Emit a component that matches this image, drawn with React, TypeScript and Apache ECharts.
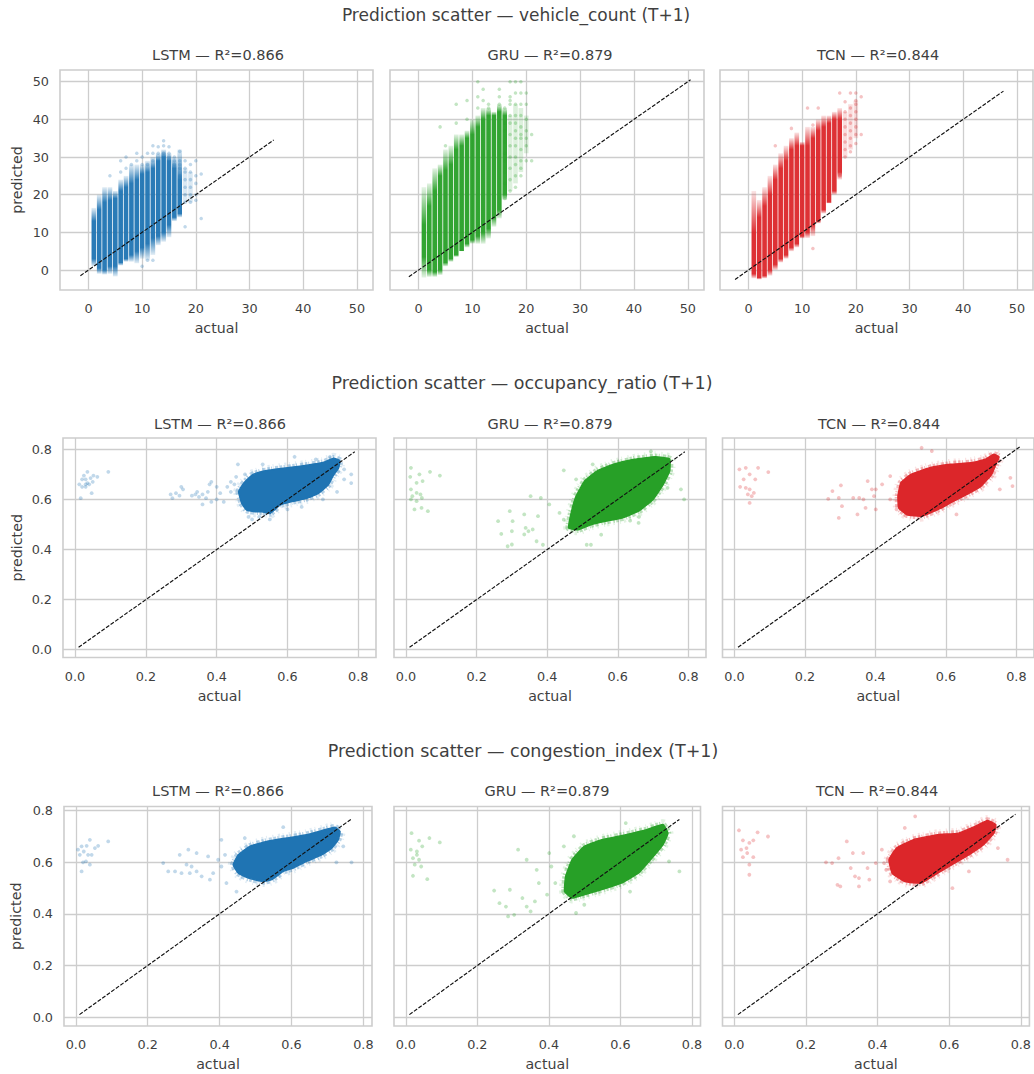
import React, { useEffect, useRef } from "react";
import * as echarts from "echarts";

// All values below were read by eye from the reference picture. The dense clouds cannot be
// read point by point, so they are stored as what can be read: per-column extents for the
// integer-valued target, cloud outlines for the continuous targets, plus visible sparse points.

const modelNames = ["LSTM", "GRU", "TCN"];
const r2Labels = ["R²=0.866", "R²=0.879", "R²=0.844"];
const targetTitles = [
  "Prediction scatter — vehicle_count (T+1)",
  "Prediction scatter — occupancy_ratio (T+1)",
  "Prediction scatter — congestion_index (T+1)",
];
const vehicleTicks = [0, 10, 20, 30, 40, 50];
const ratioTicks = [0, 0.2, 0.4, 0.6, 0.8];

// [actual, low predicted, high predicted]
const lstmVehicleCore = [[1,3,13],[2,0.5,16],[3,0,18],[4,1,18.5],[5,1,19],[6,2,21],[7,3,22],[8,4,23],[9,5,24],[10,6,25.5],[11,7,26],[12,8.5,27],[13,9,29],[14,10,30],[15,12,29],[16,14,27],[17,15,24]];
const lstmVehicleFringe = [[1,1,16.5],[2,-1,20],[3,-1.2,22],[4,-1,22],[5,-1.7,21],[6,1.2,24],[7,2.2,25],[8,2.2,28],[9,1.8,28],[10,3,28],[11,2.6,29],[12,4,30],[13,6.6,31],[14,7.5,32],[15,8.7,31],[16,13,30],[17,14,32],[18,18,27],[19,18,26]];
const lstmVehicleDots = [[17,[25,27,28,29,31.5]],[18,[11.5,18,20,22,24,26,27,29]],[19,[18,20,22,24,26,28]],[20,[18.5,20,23,25,29]],[21,[13.7,25.5]],[16,[28,29,30]],[15,[30,31,32.7]],[14,[31,33,34.3]],[13,[31,32.7]],[12,[29,31,33]],[9,[29,31]],[6,[26,29]],[7,[27,30]],[4,[25]],[8,[28]],[10,[28,30,1]],[11,[28,31,2.6]],[12,[2.6]]];

const gruVehicleCore = [[1,3.5,12],[2,0,17],[3,-0.5,21],[4,0,25],[5,2,26.5],[6,3,28],[7,4,32],[8,5,33],[9,7,35],[10,8,36],[11,9,38],[12,10,40],[13,11,41],[14,14,41],[15,16,42],[16,20,41]];
const gruVehicleFringe = [[1,-2,22],[2,-1.8,23],[3,-1.8,27],[4,-1.3,28],[5,1,32],[6,2.2,33],[7,3.5,36],[8,5,36],[9,6,37],[10,7,40],[11,7,41],[12,7,43],[13,8.4,43],[14,11.5,42],[15,13.7,44],[16,18.6,43],[17,21,41],[18,23,44],[19,26,43],[20,31,41]];
const gruVehicleDots = [[16,[19,23,26,29,31,34,37,39,43]],[17,[21,24,27,30,33,36,39,41,44,45,46,50]],[18,[22,25,28,30,33,35,37,39,41,44,47,50]],[19,[25,27,29,32,35,36,38,41,44,47,50]],[20,[29,33,35,37,40,44,47]],[21,[29,36]],[15,[44,46,48]],[13,[43,44]],[11,[50,46,43]],[12,[48,45]],[9,[45,40]],[7,[44,39]],[4,[38]],[5,[33]]];

const tcnVehicleCore = [[1,-1,10],[2,-2,14],[3,-1.5,17],[4,0,20],[5,1.5,24],[6,3,27],[7,4,29],[8,6,32],[9,7,33],[10,9,33],[11,10,33],[12,12,35],[13,13,37],[14,16,38],[15,18,39],[16,21,40],[17,26,40]];
const tcnVehicleFringe = [[1,-2.2,21],[2,-2.5,18.6],[3,-2.2,22],[4,-1.5,25],[5,0,28],[6,2,31],[7,3,33],[8,5,35],[9,6,36.5],[10,8.4,34],[11,8.5,38],[12,9,38],[13,12.4,40],[14,15,41],[15,17.7,41],[16,20,42],[17,24,43],[18,30,42],[19,32,44],[20,35,45]];
const tcnVehicleDots = [[18,[30,32,34,36,38,40,42,44.7]],[19,[31.4,33,35,37,39,41,43,47]],[20,[33.6,36,38,40,42,44,45,47]],[21,[36,46]],[17,[25,47]],[13,[43]],[11,[43]],[12,[5.7,38.5]],[8,[37.6]],[5,[33]]];

const lstmOccOutline = [[0.462,0.631],[0.476,0.664],[0.5,0.697],[0.528,0.711],[0.565,0.72],[0.612,0.728],[0.659,0.737],[0.701,0.747],[0.73,0.764],[0.748,0.755],[0.744,0.724],[0.73,0.697],[0.715,0.657],[0.687,0.624],[0.654,0.604],[0.612,0.591],[0.579,0.577],[0.551,0.544],[0.528,0.551],[0.509,0.551],[0.485,0.557],[0.471,0.584]];
const lstmOccSparse = [[0.02,0.68],[0.03,0.66],[0.03,0.68],[0.035,0.665],[0.044,0.685],[0.035,0.71],[0.05,0.67],[0.063,0.69],[0.094,0.71],[0.016,0.605],[0.047,0.625],[0.02,0.65],[0.012,0.66],[0.03,0.65],[0.04,0.66],[0.025,0.695],[0.052,0.695],[0.27,0.62],[0.285,0.625],[0.3,0.65],[0.295,0.615],[0.305,0.64],[0.275,0.605],[0.34,0.62],[0.35,0.61],[0.36,0.62],[0.33,0.615],[0.345,0.63],[0.37,0.605],[0.38,0.66],[0.375,0.63],[0.385,0.67],[0.4,0.65],[0.4,0.6],[0.385,0.59],[0.36,0.58],[0.41,0.625],[0.43,0.65],[0.44,0.63],[0.44,0.67],[0.45,0.66],[0.42,0.59],[0.455,0.69],[0.46,0.74],[0.78,0.665],[0.78,0.7],[0.72,0.77],[0.62,0.77],[0.68,0.76],[0.53,0.74],[0.48,0.7],[0.76,0.68],[0.76,0.72],[0.74,0.63],[0.7,0.6],[0.6,0.56],[0.64,0.57],[0.55,0.52],[0.49,0.53],[0.5,0.52],[0.52,0.53]];

const gruOccOutline = [[0.461,0.486],[0.468,0.546],[0.482,0.613],[0.506,0.673],[0.541,0.713],[0.588,0.74],[0.647,0.76],[0.706,0.77],[0.747,0.762],[0.747,0.713],[0.729,0.66],[0.7,0.6],[0.659,0.553],[0.612,0.526],[0.565,0.513],[0.524,0.499],[0.488,0.479]];
const gruOccSparse = [[0.014,0.726],[0.012,0.69],[0.038,0.7],[0.068,0.71],[0.096,0.695],[0.047,0.673],[0.03,0.666],[0.014,0.64],[0.03,0.626],[0.018,0.613],[0.041,0.62],[0.03,0.593],[0.045,0.606],[0.024,0.56],[0.044,0.566],[0.062,0.553],[0.014,0.6],[0.261,0.513],[0.27,0.462],[0.294,0.553],[0.302,0.513],[0.3,0.473],[0.288,0.413],[0.3,0.42],[0.335,0.54],[0.339,0.486],[0.347,0.473],[0.359,0.48],[0.335,0.46],[0.374,0.533],[0.382,0.606],[0.406,0.58],[0.37,0.433],[0.388,0.419],[0.353,0.613],[0.447,0.716],[0.435,0.546],[0.447,0.519],[0.779,0.64],[0.788,0.6],[0.741,0.646],[0.694,0.792],[0.524,0.419],[0.512,0.419],[0.553,0.459],[0.659,0.506],[0.635,0.515],[0.529,0.74],[0.482,0.68],[0.66,0.53]];

const tcnOccOutline = [[0.464,0.613],[0.472,0.666],[0.501,0.7],[0.554,0.726],[0.613,0.74],[0.671,0.746],[0.712,0.76],[0.736,0.78],[0.751,0.77],[0.742,0.74],[0.73,0.7],[0.7,0.653],[0.66,0.62],[0.613,0.586],[0.577,0.559],[0.531,0.533],[0.489,0.539],[0.466,0.566]];
const tcnOccSparse = [[0.014,0.72],[0.032,0.726],[0.043,0.7],[0.067,0.726],[0.096,0.709],[0.059,0.68],[0.026,0.68],[0.016,0.65],[0.032,0.646],[0.043,0.64],[0.038,0.62],[0.049,0.613],[0.043,0.586],[0.055,0.626],[0.266,0.602],[0.278,0.633],[0.302,0.656],[0.296,0.606],[0.305,0.573],[0.296,0.526],[0.337,0.606],[0.354,0.606],[0.349,0.54],[0.366,0.6],[0.378,0.673],[0.39,0.64],[0.372,0.566],[0.396,0.613],[0.401,0.56],[0.419,0.66],[0.442,0.693],[0.442,0.6],[0.401,0.64],[0.531,0.806],[0.56,0.793],[0.753,0.64],[0.783,0.686],[0.789,0.653],[0.63,0.54],[0.46,0.56]];

const lstmCongOutline = [[0.438,0.59],[0.452,0.628],[0.484,0.661],[0.531,0.68],[0.586,0.693],[0.642,0.706],[0.693,0.725],[0.721,0.735],[0.735,0.719],[0.73,0.686],[0.712,0.654],[0.684,0.628],[0.642,0.603],[0.605,0.577],[0.577,0.564],[0.545,0.532],[0.521,0.525],[0.48,0.538],[0.452,0.557]];
const lstmCongSparse = [[0.006,0.648],[0.016,0.661],[0.03,0.663],[0.039,0.686],[0.022,0.641],[0.034,0.628],[0.044,0.628],[0.062,0.663],[0.09,0.68],[0.02,0.599],[0.039,0.59],[0.016,0.564],[0.053,0.654],[0.011,0.628],[0.028,0.603],[0.243,0.596],[0.257,0.564],[0.276,0.564],[0.294,0.557],[0.289,0.628],[0.313,0.648],[0.308,0.59],[0.322,0.583],[0.336,0.635],[0.336,0.564],[0.35,0.545],[0.317,0.557],[0.368,0.622],[0.382,0.557],[0.373,0.532],[0.396,0.609],[0.405,0.583],[0.415,0.628],[0.419,0.519],[0.405,0.686],[0.447,0.486],[0.577,0.735],[0.725,0.599],[0.767,0.599],[0.744,0.661],[0.47,0.693]];

const gruCongOutline = [[0.444,0.486],[0.447,0.545],[0.465,0.609],[0.499,0.661],[0.546,0.686],[0.615,0.706],[0.673,0.725],[0.719,0.745],[0.733,0.712],[0.719,0.667],[0.684,0.609],[0.65,0.557],[0.603,0.519],[0.546,0.493],[0.499,0.474],[0.465,0.461]];
const gruCongSparse = [[0.016,0.712],[0.037,0.683],[0.066,0.693],[0.095,0.676],[0.046,0.661],[0.031,0.641],[0.014,0.648],[0.02,0.615],[0.037,0.609],[0.025,0.59],[0.043,0.583],[0.02,0.547],[0.06,0.534],[0.031,0.628],[0.247,0.49],[0.262,0.441],[0.28,0.428],[0.291,0.493],[0.286,0.39],[0.303,0.396],[0.314,0.648],[0.338,0.609],[0.326,0.461],[0.338,0.428],[0.349,0.409],[0.366,0.57],[0.372,0.519],[0.361,0.448],[0.407,0.583],[0.401,0.635],[0.442,0.661],[0.418,0.519],[0.395,0.474],[0.476,0.403],[0.499,0.435],[0.765,0.564],[0.736,0.603],[0.615,0.751],[0.627,0.486],[0.47,0.7]];

const tcnCongOutline = [[0.432,0.609],[0.453,0.654],[0.499,0.686],[0.568,0.706],[0.626,0.712],[0.672,0.738],[0.707,0.761],[0.73,0.745],[0.725,0.712],[0.696,0.667],[0.655,0.628],[0.615,0.596],[0.568,0.557],[0.522,0.519],[0.476,0.525],[0.441,0.557]];
const tcnCongSparse = [[0.013,0.723],[0.065,0.715],[0.094,0.699],[0.024,0.684],[0.042,0.674],[0.053,0.684],[0.019,0.648],[0.036,0.635],[0.024,0.619],[0.053,0.619],[0.042,0.59],[0.042,0.551],[0.034,0.654],[0.256,0.599],[0.273,0.596],[0.291,0.615],[0.288,0.512],[0.296,0.506],[0.314,0.68],[0.325,0.577],[0.337,0.545],[0.348,0.538],[0.348,0.506],[0.331,0.635],[0.36,0.635],[0.377,0.532],[0.372,0.577],[0.395,0.596],[0.412,0.648],[0.418,0.596],[0.424,0.57],[0.505,0.777],[0.476,0.732],[0.609,0.499],[0.736,0.654],[0.763,0.609],[0.655,0.564],[0.435,0.525]];

// endpoints of the dashed y = x reference per panel
const vehicleIdentity = [[-1.5, 34.5], [-1.8, 50.5], [-2.5, 47.5]];
const occIdentity = [[0.01, 0.79], [0.01, 0.79], [0.01, 0.81]];
const congIdentity = [[0.01, 0.765], [0.01, 0.765], [0.01, 0.785]];

const MODEL_COLORS = ["#1f74b3", "#27a027", "#dc262a"];
const TEXT = "#3f3f3f";
const GRID = "#cdcdcd";
const FONT = "DejaVu Sans";

const rows = [
  { title: targetTitles[0], titleSize: 17, titleX: 511, titleY: 10, subY: 50, subX: [213, 545, 873], top: 70, bottom: 290, yGap: 36,
    cols: [[60, 373], [390, 704], [720, 1033]], xr: [-5.3, 53], yr: [-5.3, 53.1], ticks: vehicleTicks, dec: 0, id: vehicleIdentity },
  { title: targetTitles[1], titleSize: 17.5, titleX: 517, titleY: 378, subY: 419, subX: [215, 545, 874], top: 438, bottom: 657.5, yGap: 39,
    cols: [[63, 376], [394, 706], [722.5, 1034]], xr: [-0.034, 0.85], yr: [-0.031, 0.845], ticks: ratioTicks, dec: 1, id: occIdentity },
  { title: targetTitles[2], titleSize: 17.5, titleX: 518, titleY: 746, subY: 786, subX: [213, 542, 872], top: 806.5, bottom: 1026, yGap: 41,
    cols: [[64, 372], [394, 700.5], [722.5, 1031]], xr: [-0.033, 0.824], yr: [-0.034, 0.815], ticks: ratioTicks, dec: 1, id: congIdentity },
];

const vehicleColumns = [
  { core: lstmVehicleCore, fringe: lstmVehicleFringe, dots: lstmVehicleDots },
  { core: gruVehicleCore, fringe: gruVehicleFringe, dots: gruVehicleDots },
  { core: tcnVehicleCore, fringe: tcnVehicleFringe, dots: tcnVehicleDots },
];
const ratioClouds = [
  [{ outline: lstmOccOutline, sparse: lstmOccSparse }, { outline: gruOccOutline, sparse: gruOccSparse }, { outline: tcnOccOutline, sparse: tcnOccSparse }],
  [{ outline: lstmCongOutline, sparse: lstmCongSparse }, { outline: gruCongOutline, sparse: gruCongSparse }, { outline: tcnCongOutline, sparse: tcnCongSparse }],
];

// One soft-ended stripe per integer actual: solid through the dense span, fading out to the read extent.
function stripeSeries(idx: number, fringe: number[][], core: number[][], color: string) {
  const width = 4.6;
  return {
    type: "custom", xAxisIndex: idx, yAxisIndex: idx, data: fringe, z: 3, silent: true, clip: true,
    encode: { x: 0, y: [1, 2] },
    renderItem: (_: any, api: any) => {
      const x = api.value(0), lo = api.value(1), hi = api.value(2);
      const a = api.coord([x, lo]);
      const b = api.coord([x, hi]);
      const c = core.find((d) => d[0] === x);
      const span = hi - lo;
      const stops = c
        ? [
            { offset: 0, opacity: 0.12 },
            { offset: Math.max(0, (hi - c[2]) / span), opacity: 0.95 },
            { offset: Math.min(1, (hi - c[1]) / span), opacity: 0.95 },
            { offset: 1, opacity: 0.12 },
          ]
        : [
            { offset: 0, opacity: 0.16 },
            { offset: 1, opacity: 0.16 },
          ];
      const n = parseInt(color.slice(1), 16);
      const rgba = (s: any) => ({ offset: s.offset, color: `rgba(${n >> 16},${(n >> 8) & 255},${n & 255},${s.opacity})` });
      return {
        type: "rect",
        shape: { x: a[0] - width / 2, y: b[1], width, height: a[1] - b[1] },
        style: { fill: new echarts.graphic.LinearGradient(0, 0, 0, 1, stops.map(rgba)) },
      };
    },
  };
}

function cloudSeries(idx: number, outline: number[][], color: string) {
  return {
    type: "custom", xAxisIndex: idx, yAxisIndex: idx, data: outline, z: 3, silent: true,
    encode: { x: 0, y: 1 },
    renderItem: (p: any, api: any) => {
      if (p.dataIndex !== 0) return null;
      const points = outline.map((d) => api.coord(d));
      const shape = { points, smooth: 0.12 };
      return {
        type: "group",
        children: [
          { type: "polygon", shape, style: { fill: "none", stroke: color, lineWidth: 11, lineDash: [1.3, 4.1, 2.2, 2.7, 0.9, 5.3], opacity: 0.13 } },
          { type: "polygon", shape, style: { fill: "none", stroke: color, lineWidth: 6.5, lineDash: [2.4, 1.3, 1.1, 2.9, 3.2, 1.7], opacity: 0.32 } },
          { type: "polygon", shape, style: { fill: color, stroke: color, lineWidth: 1.5, lineJoin: "round" } },
        ],
      };
    },
  };
}

function buildOption() {
  const grid: any[] = [], xAxis: any[] = [], yAxis: any[] = [], series: any[] = [], title: any[] = [];
  rows.forEach((row, r) => {
    title.push({ text: row.title, left: row.titleX, top: row.titleY, textAlign: "center", textVerticalAlign: "middle",
      textStyle: { fontFamily: FONT, fontSize: row.titleSize, fontWeight: "normal", color: TEXT } });
    row.cols.forEach((col, c) => {
      const idx = r * 3 + c;
      const color = MODEL_COLORS[c];
      title.push({ text: `${modelNames[c]} — ${r2Labels[c]}`, left: row.subX[c], top: row.subY, textAlign: "center", textVerticalAlign: "middle",
        textStyle: { fontFamily: FONT, fontSize: 14.5, fontWeight: "normal", color: TEXT } });
      grid.push({ left: col[0], width: col[1] - col[0], top: row.top, height: row.bottom - row.top, show: true,
        borderColor: GRID, borderWidth: 1.6, backgroundColor: "#fff" });
      const fmt = (v: number) => v.toFixed(row.dec);
      xAxis.push({ type: "value", gridIndex: idx, min: row.xr[0], max: row.xr[1], name: "actual", nameLocation: "middle", nameGap: 31,
        nameTextStyle: { fontFamily: FONT, fontSize: 14.2, color: TEXT },
        axisLine: { show: false }, axisTick: { show: false, customValues: row.ticks },
        axisLabel: { customValues: row.ticks, formatter: fmt, margin: 12, fontFamily: FONT, fontSize: 12.8, color: TEXT, hideOverlap: false },
        splitLine: { show: true, lineStyle: { color: GRID, width: 1.3 } } });
      yAxis.push({ type: "value", gridIndex: idx, min: row.yr[0], max: row.yr[1], name: c === 0 ? "predicted" : "", nameLocation: "middle", nameGap: row.yGap,
        nameTextStyle: { fontFamily: FONT, fontSize: 14.2, color: TEXT },
        axisLine: { show: false }, axisTick: { show: false, customValues: row.ticks },
        axisLabel: { show: c === 0, customValues: row.ticks, formatter: fmt, margin: 11, fontFamily: FONT, fontSize: 12.8, color: TEXT, hideOverlap: false },
        splitLine: { show: true, lineStyle: { color: GRID, width: 1.3 } } });

      if (r === 0) {
        const v = vehicleColumns[c];
        series.push(stripeSeries(idx, v.fringe, v.core, color));
        const dots = (v.dots as any[]).flatMap(([x, ys]) => ys.map((y: number) => [x, y]));
        series.push({ type: "scatter", xAxisIndex: idx, yAxisIndex: idx, data: dots, symbolSize: 3.5, silent: true, z: 4,
          itemStyle: { color, opacity: 0.28 } });
      } else {
        const cloud = ratioClouds[r - 1][c];
        series.push(cloudSeries(idx, cloud.outline, color));
        series.push({ type: "scatter", xAxisIndex: idx, yAxisIndex: idx, data: cloud.sparse, symbolSize: 3.8, silent: true, z: 4,
          itemStyle: { color, opacity: 0.28 } });
      }
      const [a, b] = row.id[c];
      series.push({ type: "line", xAxisIndex: idx, yAxisIndex: idx, data: [[a, a], [b, b]], symbol: "none", silent: true, z: 6,
        lineStyle: { color: "#111", width: 1.15, type: [4, 1.6] } });
    });
  });
  return { animation: false, backgroundColor: "#fff", title, grid, xAxis, yAxis, series };
}

export default function App() {
  const ref = useRef<HTMLDivElement>(null);
  useEffect(() => {
    const chart = echarts.init(ref.current!, undefined, { renderer: "svg" });
    chart.setOption(buildOption() as any);
    return () => chart.dispose();
  }, []);
  return <div ref={ref} style={{ position: "absolute", left: 0, top: 0, width: 1034, height: 1074 }} />;
}
